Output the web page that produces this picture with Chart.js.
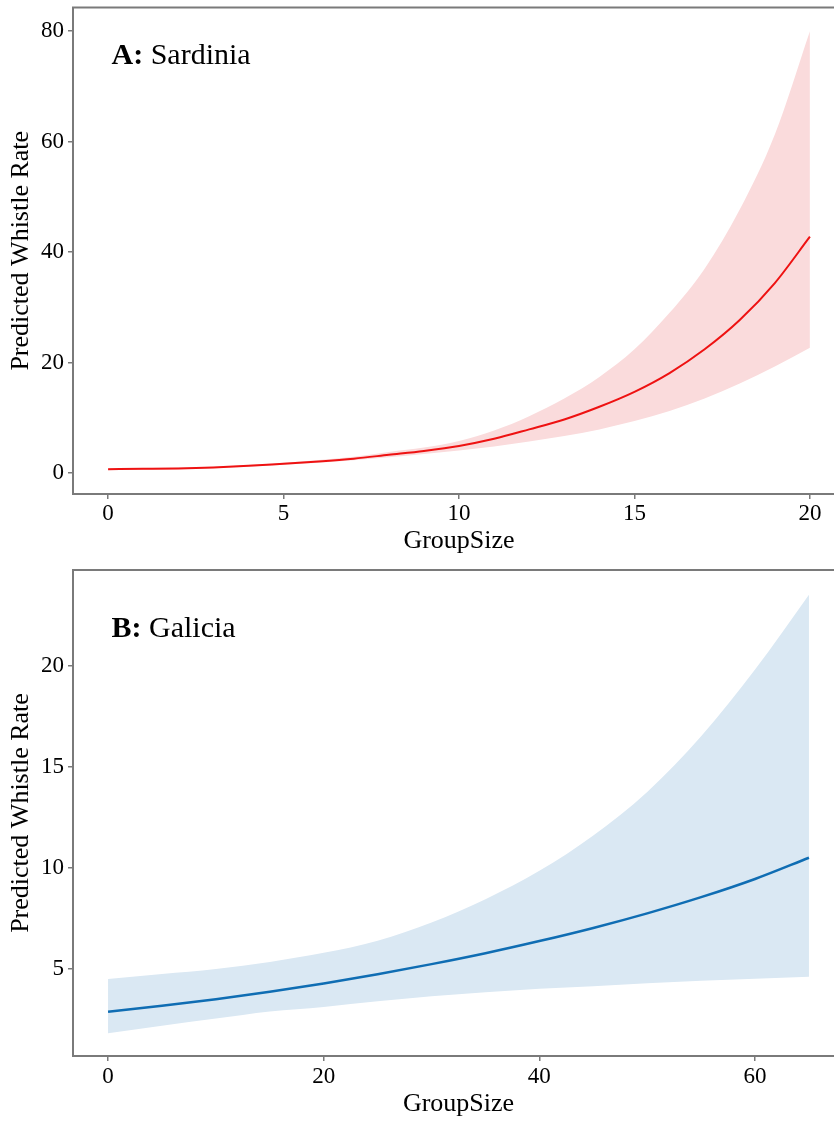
<!DOCTYPE html>
<html>
<head>
<meta charset="utf-8">
<script src="https://cdn.jsdelivr.net/npm/chart.js@4.4.0/dist/chart.umd.min.js"></script>
<style>
  html, body { margin: 0; padding: 0; background: #fff; overflow: hidden; width: 834px; height: 1121px; }
  canvas { position: absolute; left: 0; }
  #sardinia-chart { top: 0; }
  #galicia-chart { top: 560px; }
</style>
</head>
<body>
<canvas id="sardinia-chart" width="846" height="560"></canvas>
<canvas id="galicia-chart" width="846" height="561"></canvas>
<script>
// Sardinia - predicted whistle rate vs group size, with its confidence band
const sardiniaSizes = [0, 1, 2, 3, 4, 5, 6, 7, 8, 9, 10, 11, 12, 13, 14, 15, 16, 17, 18, 19, 20];
const sardiniaFit   = [0.7, 0.75, 0.82, 1.0, 1.3, 1.7, 2.1, 2.6, 3.3, 4.0, 4.9, 6.2, 7.9, 9.7, 12.0, 14.7, 18.1, 22.4, 27.7, 34.4, 42.8];
const sardiniaUpper = [0.85, 0.9, 0.98, 1.15, 1.45, 1.85, 2.35, 2.95, 3.8, 4.6, 5.8, 7.7, 10.3, 13.5, 17.4, 22.4, 29.0, 37.0, 47.7, 61.3, 80.0];
const sardiniaLower = [0.55, 0.6, 0.68, 0.85, 1.12, 1.5, 1.85, 2.3, 2.85, 3.45, 4.1, 4.8, 5.7, 6.7, 7.9, 9.4, 11.25, 13.5, 16.2, 19.3, 22.7];
const sardiniaXTicks = [0, 5, 10, 15, 20];
const sardiniaYTicks = [0, 20, 40, 60, 80];

// Galicia
const galiciaSizes = [0, 5, 10, 15, 20, 25, 30, 35, 40, 45, 50, 55, 60, 65];
const galiciaFit   = [2.89, 3.18, 3.5, 3.87, 4.28, 4.74, 5.24, 5.78, 6.38, 7.03, 7.75, 8.55, 9.45, 10.5];
const galiciaUpper = [4.5, 4.75, 5.0, 5.35, 5.8, 6.4, 7.3, 8.45, 9.85, 11.6, 13.75, 16.5, 19.8, 23.5];
const galiciaLower = [1.82, 2.2, 2.55, 2.9, 3.12, 3.4, 3.65, 3.85, 4.02, 4.15, 4.3, 4.42, 4.52, 4.62];
const galiciaXTicks = [0, 20, 40, 60];
const galiciaYTicks = [5, 10, 15, 20];

const serif = "'Liberation Serif', 'Times New Roman', serif";
const axisGrey = '#7a7a7a';

function toPoints(xs, ys) {
    return xs.map((x, i) => ({ x: x, y: ys[i] }));
}

// grey box round the plot area and the bold "A:" style tag in the corner
const panelDecor = {
    id: 'panelDecor',
    afterDraw(chart, args, opts) {
        const { ctx, chartArea } = chart;
        ctx.save();
        ctx.strokeStyle = axisGrey;
        ctx.lineWidth = 2;
        ctx.strokeRect(chartArea.left, chartArea.top, chartArea.right - chartArea.left, chartArea.bottom - chartArea.top);

        ctx.fillStyle = '#000';
        ctx.textAlign = 'left';
        ctx.textBaseline = 'alphabetic';
        const x = chartArea.left + 38.5;
        const y = chartArea.top + opts.labelOffset;
        ctx.font = 'bold 30px ' + serif;
        ctx.fillText(opts.tag, x, y);
        const tagWidth = ctx.measureText(opts.tag).width;
        ctx.font = '30px ' + serif;
        ctx.fillText(' ' + opts.place, x + tagWidth, y);
        ctx.restore();
    }
};

function makePanel(canvasId, cfg) {
    const ctx = document.getElementById(canvasId);

    return new Chart(ctx, {
        type: 'line',
        data: {
            datasets: [
                {
                    label: 'Fit',
                    data: toPoints(cfg.sizes, cfg.fit),
                    borderColor: cfg.lineColor,
                    borderWidth: cfg.lineWidth,
                    pointRadius: 0,
                    fill: false,
                    cubicInterpolationMode: 'monotone',
                    order: 0
                },
                {
                    label: 'Upper',
                    data: toPoints(cfg.sizes, cfg.upper),
                    borderColor: 'rgba(0,0,0,0)',
                    borderWidth: 0,
                    pointRadius: 0,
                    backgroundColor: cfg.bandColor,
                    fill: '+1', // shade down to the lower bound
                    cubicInterpolationMode: 'monotone',
                    order: 1
                },
                {
                    label: 'Lower',
                    data: toPoints(cfg.sizes, cfg.lower),
                    borderColor: 'rgba(0,0,0,0)',
                    borderWidth: 0,
                    pointRadius: 0,
                    fill: false,
                    cubicInterpolationMode: 'monotone',
                    order: 2
                }
            ]
        },
        options: {
            responsive: false,
            animation: false,
            layout: {
                padding: { top: cfg.padTop, right: cfg.padRight, left: 0, bottom: 0 }
            },
            scales: {
                x: {
                    type: 'linear',
                    min: cfg.xMin,
                    max: cfg.xMax,
                    afterBuildTicks: scale => { scale.ticks = cfg.xTicks.map(v => ({ value: v })); },
                    afterFit: scale => {
                        scale.height = cfg.xAxisHeight;
                        scale.paddingLeft = 0;
                        scale.paddingRight = 0;
                    },
                    grid: { drawOnChartArea: false, drawTicks: true, tickLength: 5, color: axisGrey, lineWidth: 1.5 },
                    border: { display: false },
                    ticks: {
                        color: '#000',
                        padding: cfg.xTickPad,
                        maxRotation: 0,
                        autoSkip: false,
                        font: { family: serif, size: 23 }
                    },
                    title: {
                        display: true,
                        text: 'GroupSize',
                        color: '#000',
                        font: { family: serif, size: 26 },
                        padding: { top: 0, bottom: cfg.xTitlePad }
                    }
                },
                y: {
                    type: 'linear',
                    min: cfg.yMin,
                    max: cfg.yMax,
                    afterBuildTicks: scale => { scale.ticks = cfg.yTicks.map(v => ({ value: v })); },
                    afterFit: scale => {
                        scale.width = 73;
                        // labels near the top edge should not push the plot down
                        scale.paddingTop = 0;
                        scale.paddingBottom = 0;
                    },
                    grid: { drawOnChartArea: false, drawTicks: true, tickLength: 5, color: axisGrey, lineWidth: 1.5 },
                    border: { display: false },
                    ticks: {
                        color: '#000',
                        padding: 4,
                        font: { family: serif, size: 23 }
                    },
                    title: {
                        display: true,
                        text: 'Predicted Whistle Rate',
                        color: '#000',
                        font: { family: serif, size: 26 },
                        padding: { top: 6, bottom: 0 }
                    }
                }
            },
            plugins: {
                legend: { display: false },
                tooltip: { enabled: false },
                panelDecor: { tag: cfg.tag, place: cfg.place, labelOffset: cfg.labelOffset }
            }
        },
        plugins: [panelDecor]
    });
}

// Panel A
makePanel('sardinia-chart', {
    sizes: sardiniaSizes,
    fit: sardiniaFit,
    upper: sardiniaUpper,
    lower: sardiniaLower,
    xTicks: sardiniaXTicks,
    yTicks: sardiniaYTicks,
    xMin: -1, xMax: 21,
    yMin: -3.8, yMax: 84.3,
    lineColor: '#ee1212',
    lineWidth: 2,
    bandColor: '#fadbdc',
    padTop: 7.5, padRight: 1,
    xAxisHeight: 66,
    xTickPad: 1,
    xTitlePad: 3,
    tag: 'A:', place: 'Sardinia',
    labelOffset: 56
});

// Panel B
makePanel('galicia-chart', {
    sizes: galiciaSizes,
    fit: galiciaFit,
    upper: galiciaUpper,
    lower: galiciaLower,
    xTicks: galiciaXTicks,
    yTicks: galiciaYTicks,
    xMin: -3.25, xMax: 68.25,
    yMin: 0.7, yMax: 24.72,
    lineColor: '#0f6db3',
    lineWidth: 2.5,
    bandColor: '#dae8f3',
    padTop: 10, padRight: 2,
    xAxisHeight: 65,
    xTickPad: 2,
    xTitlePad: 1.5,
    tag: 'B:', place: 'Galicia',
    labelOffset: 67.3
});
</script>
</body>
</html>
